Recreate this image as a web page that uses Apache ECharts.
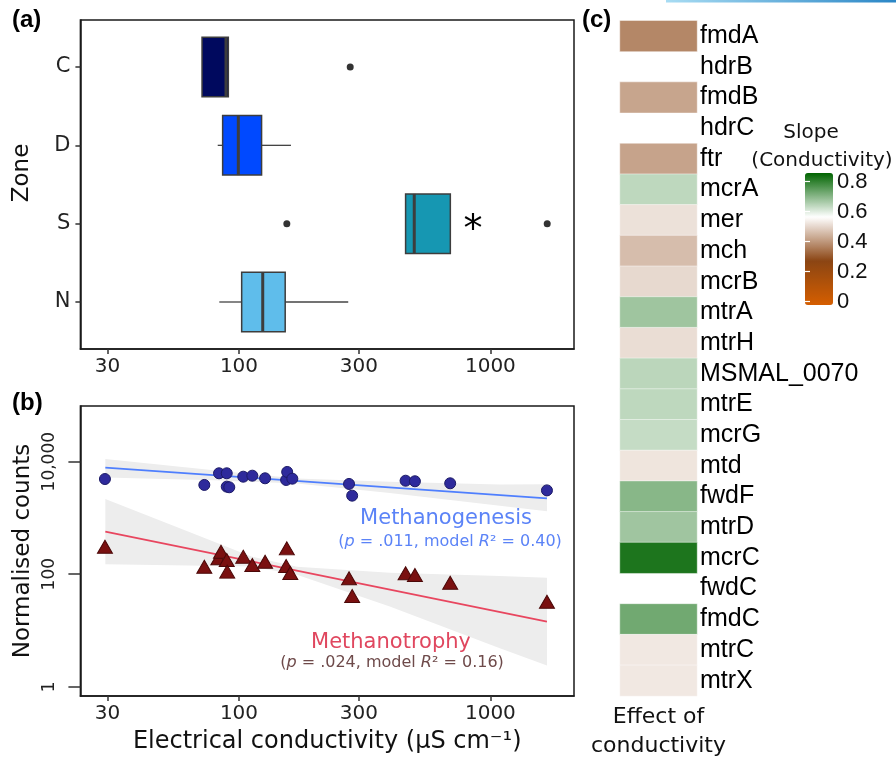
<!DOCTYPE html>
<html>
<head>
<meta charset="utf-8">
<script src="https://cdn.jsdelivr.net/npm/echarts@6/dist/echarts.min.js"></script>
<style>
  html, body { margin: 0; padding: 0; background: #fff; }
  #main { width: 896px; height: 758px; }
</style>
</head>
<body>
<div id="main"></div>
<script>
// (a) conductivity by zone: low whisker, q1, median, q3, high whisker
var zones = ['C', 'D', 'S', 'N'];
var zoneColors = ['#00095e', '#0049ff', '#1697b2', '#5fbdeb'];
var zoneStats = [
    [71.3, 71.3, 88.8, 90.7, 90.7],
    [82.3, 86.1, 99.4, 123, 161],
    [460, 460, 498, 693, 693],
    [83.5, 102.5, 124.3, 152.7, 272]
];
var zoneOutliers = [[277, 0], [155, 2], [1683, 2]];
var ecTicks = [30, 100, 300, 1000];

// (b) normalised counts against conductivity
var genesisEC = [29.3, 72.8, 83.3, 89.4, 89.4, 91.5, 104, 113, 127, 154, 155.5, 163, 274, 282, 460, 501, 692, 1679];
var genesisCounts = [4920, 3860, 6220, 6220, 3600, 3510, 5410, 5640, 5070, 4730, 6570, 4990, 4020, 2490, 4590, 4490, 4130, 3090];
var trophyEC = [29.3, 72.8, 82.8, 84.8, 89.4, 89.8, 104, 113, 127, 154, 155, 160, 274, 282, 460, 501, 692, 1679];
var trophyCounts = [308, 136, 192, 251, 179, 111, 205, 146, 167, 140, 288, 105, 84.5, 41, 104, 97, 70.6, 32.4];
var trendEC = [29.4, 1679];
var genesisTrend = [7820, 2230];
var trophyTrend = [570, 14.3];
var genesisBandEC = [29.4, 79.4, 170, 398, 1091, 1679];
var genesisBandHi = [11200, 7060, 5040, 4390, 3940, 3980];
var genesisBandLo = [5250, 4670, 4090, 2770, 1640, 1320];
var trophyBandEC = [29.4, 63.1, 112, 170, 398, 1091, 1679];
var trophyBandHi = [2170, 568, 207, 136, 106, 92.5, 86.3];
var trophyBandLo = [150, 143, 137, 98, 26.6, 4.85, 2.38];
var countTicks = [1, 100, 10000];

// (c) slope of each gene against conductivity (null = blank cell)
var genes = ['fmdA', 'hdrB', 'fmdB', 'hdrC', 'ftr', 'mcrA', 'mer', 'mch', 'mcrB', 'mtrA', 'mtrH',
    'MSMAL_0070', 'mtrE', 'mcrG', 'mtd', 'fwdF', 'mtrD', 'mcrC', 'fwdC', 'fmdC', 'mtrC', 'mtrX'];
var slopes = [0.376, null, 0.423, null, 0.42, 0.639, 0.517, 0.461, 0.505, 0.675, 0.511,
    0.643, 0.639, 0.631, 0.523, 0.701, 0.674, 0.825, null, 0.728, 0.529, 0.529];
var slopeTicks = [0, 0.2, 0.4, 0.6, 0.8];

var chart = echarts.init(document.getElementById('main'), null, {renderer: 'canvas'});
var FONT = 'DejaVu Sans';
var ARIAL = 'Liberation Sans';

function pairs(xs, ys) {
    return xs.map(function (x, i) { return [x, ys[i]]; });
}
function commas(v) {
    return String(Math.round(v)).replace(/\B(?=(\d{3})+(?!\d))/g, ',');
}

function bandItem(xs, hi, lo) {
    return function (params, api) {
        if (params.dataIndex !== 0) return null;
        var pts = [];
        for (var i = 0; i < xs.length; i++) pts.push(api.coord([xs[i], hi[i]]));
        for (var j = xs.length - 1; j >= 0; j--) pts.push(api.coord([xs[j], lo[j]]));
        return {type: 'polygon', shape: {points: pts}, style: {fill: '#ededed'}};
    };
}

function boxItem(params, api) {
    var yi = api.value(0);
    var lo = api.value(1), q1 = api.value(2), md = api.value(3), q3 = api.value(4), hi = api.value(5);
    var a = api.coord([q1, yi - 0.38])[1];
    var b = api.coord([q1, yi + 0.38])[1];
    var top = Math.min(a, b), h = Math.abs(b - a);
    var yc = api.coord([md, yi])[1];
    var xLo = api.coord([lo, yi])[0], xQ1 = api.coord([q1, yi])[0];
    var xMd = api.coord([md, yi])[0], xQ3 = api.coord([q3, yi])[0], xHi = api.coord([hi, yi])[0];
    return {
        type: 'group',
        children: [
            {type: 'line', shape: {x1: xLo, y1: yc, x2: xQ1, y2: yc}, style: {stroke: '#444', lineWidth: 1.3}},
            {type: 'line', shape: {x1: xQ3, y1: yc, x2: xHi, y2: yc}, style: {stroke: '#444', lineWidth: 1.3}},
            {type: 'rect', shape: {x: xQ1, y: top, width: xQ3 - xQ1, height: h},
                style: {fill: zoneColors[yi], stroke: '#3d3d3d', lineWidth: 1.5}},
            {type: 'line', shape: {x1: xMd, y1: top, x2: xMd, y2: top + h}, style: {stroke: '#3d3d3d', lineWidth: 3}}
        ]
    };
}

function logAxis(grid, name) {
    return {
        gridIndex: grid, type: 'log', logBase: 10, min: 23.4, max: 2151,
        name: name, nameLocation: 'middle', nameGap: 34,
        nameTextStyle: {fontFamily: FONT, fontSize: 24, color: '#111'},
        axisLine: {show: true, onZero: false, lineStyle: {color: '#1a1a1a', width: 1.5}},
        axisTick: {show: true, customValues: ecTicks, length: 5, lineStyle: {color: '#333', width: 1.5}},
        axisLabel: {customValues: ecTicks, fontFamily: FONT, fontSize: 20, color: '#222', margin: 8,
            formatter: function (v) { return String(Math.round(v)); }},
        splitLine: {show: false}, minorTick: {show: false}, minorSplitLine: {show: false}
    };
}

var heatData = [];
slopes.forEach(function (v, i) { if (v !== null) heatData.push([0, i, v]); });

var option = {
    backgroundColor: '#fff',
    animation: false,
    textStyle: {fontFamily: FONT},
    grid: [
        {left: 80.4, top: 20, width: 493.6, height: 329, show: true, borderColor: '#1a1a1a', borderWidth: 1.5, outerBoundsMode: 'none'},
        {left: 80.4, top: 406, width: 493.6, height: 290, show: true, borderColor: '#1a1a1a', borderWidth: 1.5, outerBoundsMode: 'none'},
        {left: 620, top: 20.7, width: 77, height: 675.3, outerBoundsMode: 'none'},
        {left: 805, top: 173, width: 28, height: 132, outerBoundsMode: 'none'}
    ],
    xAxis: [
        logAxis(0, ''),
        logAxis(1, 'Electrical conductivity (μS cm⁻¹)'),
        {
            gridIndex: 2, type: 'category', data: ['Effect of\nconductivity'],
            axisLine: {show: false}, axisTick: {show: false},
            axisLabel: {fontFamily: FONT, fontSize: 22, lineHeight: 29, color: '#111', margin: 7}
        },
        {gridIndex: 3, type: 'value', show: false, min: 0, max: 1}
    ],
    yAxis: [
        {
            gridIndex: 0, type: 'value', min: -0.6, max: 3.6, inverse: true,
            axisLine: {show: true, onZero: false, lineStyle: {color: '#1a1a1a', width: 1.5}},
            axisTick: {show: true, customValues: [0, 1, 2, 3], length: 5, lineStyle: {color: '#333', width: 1.5}},
            axisLabel: {customValues: [0, 1, 2, 3], fontFamily: FONT, fontSize: 21, color: '#222', margin: 10,
                formatter: function (v) { return zones[Math.round(v)]; }},
            splitLine: {show: false}
        },
        {
            gridIndex: 1, type: 'log', logBase: 10, min: 0.684, max: 97700,
            name: 'Normalised counts', nameLocation: 'middle', nameGap: 46,
            nameTextStyle: {fontFamily: FONT, fontSize: 23, color: '#111'},
            axisLine: {show: true, onZero: false, lineStyle: {color: '#1a1a1a', width: 1.5}},
            axisTick: {show: true, customValues: countTicks, length: 12, lineStyle: {color: '#333', width: 1.5}},
            axisLabel: {show: false},
            splitLine: {show: false}, minorTick: {show: false}, minorSplitLine: {show: false}
        },
        {
            gridIndex: 2, type: 'category', data: genes, inverse: true, position: 'right',
            axisLine: {show: false}, axisTick: {show: false},
            axisLabel: {interval: 0, fontFamily: ARIAL, fontSize: 25, color: '#000', margin: 3}
        },
        {
            gridIndex: 3, type: 'value', min: -0.022, max: 0.858, position: 'right', z: 10,
            axisLine: {show: false},
            axisTick: {show: true, inside: true, customValues: slopeTicks, length: 5, lineStyle: {color: '#fff', width: 1.2}},
            axisLabel: {customValues: slopeTicks, fontFamily: ARIAL, fontSize: 22, color: '#111', margin: 4,
                formatter: function (v) { return v === 0 ? '0' : v.toFixed(1); }},
            splitLine: {show: false}
        },
        {
            gridIndex: 3, type: 'value', min: -0.022, max: 0.858, position: 'left', z: 10,
            axisLine: {show: false},
            axisTick: {show: true, inside: true, customValues: slopeTicks, length: 5, lineStyle: {color: '#fff', width: 1.2}},
            axisLabel: {show: false},
            splitLine: {show: false}
        }
    ],
    visualMap: {
        type: 'continuous', seriesIndex: 9, min: -0.022, max: 0.858,
        orient: 'vertical', left: 805, top: 173, itemWidth: 28, itemHeight: 132,
        calculable: false, padding: 0, text: null, showLabel: false,
        inRange: {color: ['#d55e00', '#8b4513', '#ffffff', '#006400']}
    },
    series: [
        {
            type: 'custom', xAxisIndex: 0, yAxisIndex: 0, renderItem: boxItem,
            encode: {x: [1, 2, 3, 4, 5], y: 0},
            data: zoneStats.map(function (s, i) { return [i].concat(s); })
        },
        {
            type: 'scatter', xAxisIndex: 0, yAxisIndex: 0, data: zoneOutliers,
            symbolSize: 7, itemStyle: {color: '#333', opacity: 1}
        },
        {
            type: 'custom', xAxisIndex: 1, yAxisIndex: 1, renderItem: bandItem(genesisBandEC, genesisBandHi, genesisBandLo),
            encode: {x: 0, y: 1}, data: pairs(genesisBandEC, genesisBandHi), z: 1, silent: true
        },
        {
            type: 'custom', xAxisIndex: 1, yAxisIndex: 1, renderItem: bandItem(trophyBandEC, trophyBandHi, trophyBandLo),
            encode: {x: 0, y: 1}, data: pairs(trophyBandEC, trophyBandHi), z: 1, silent: true
        },
        {
            type: 'line', xAxisIndex: 1, yAxisIndex: 1, data: pairs(trendEC, genesisTrend),
            showSymbol: false, lineStyle: {color: '#4f7ffe', width: 1.8}, z: 2
        },
        {
            type: 'line', xAxisIndex: 1, yAxisIndex: 1, data: pairs(trendEC, trophyTrend),
            showSymbol: false, lineStyle: {color: '#e8465f', width: 1.8}, z: 2
        },
        {
            type: 'scatter', xAxisIndex: 1, yAxisIndex: 1, data: pairs(genesisEC, genesisCounts),
            symbol: 'circle', symbolSize: 11, z: 3,
            itemStyle: {color: '#2e2a9c', borderColor: '#1c1a66', borderWidth: 1, opacity: 1}
        },
        {
            type: 'scatter', xAxisIndex: 1, yAxisIndex: 1, data: pairs(trophyEC, trophyCounts),
            symbol: 'triangle', symbolSize: [15, 13], z: 3,
            itemStyle: {color: '#7a1010', borderColor: '#4b0808', borderWidth: 1, opacity: 1}
        },
        {
            type: 'scatter', xAxisIndex: 3, yAxisIndex: 3, data: [], silent: true
        },
        {
            type: 'heatmap', xAxisIndex: 2, yAxisIndex: 2, data: heatData,
            itemStyle: {borderColor: 'rgba(255,255,255,0.45)', borderWidth: 1},
            emphasis: {disabled: true}
        }
    ]
};

chart.setOption(option);

// rotated count labels, placed on the log axis positions
var graphics = [
    {type: 'rect', shape: {x: 666, y: 0, width: 230, height: 2.5},
        style: {fill: new echarts.graphic.LinearGradient(0, 0, 1, 0, [
            {offset: 0, color: '#a8dcf3'}, {offset: 1, color: '#2a86c6'}])}},
    {type: 'text', x: 12, y: 20, style: {text: '(a)', fontFamily: ARIAL, fontWeight: 'bold', fontSize: 24, fill: '#000', verticalAlign: 'middle'}},
    {type: 'text', x: 12, y: 403, style: {text: '(b)', fontFamily: ARIAL, fontWeight: 'bold', fontSize: 24, fill: '#000', verticalAlign: 'middle'}},
    {type: 'text', x: 582, y: 20, style: {text: '(c)', fontFamily: ARIAL, fontWeight: 'bold', fontSize: 24, fill: '#000', verticalAlign: 'middle'}},
    {type: 'text', x: 22, y: 173, rotation: Math.PI / 2,
        style: {text: 'Zone', fontFamily: FONT, fontSize: 23, fill: '#111', align: 'center', verticalAlign: 'middle'}},
    {type: 'text', x: 473, y: 231, style: {text: '*', fontFamily: FONT, fontSize: 38, fill: '#000', align: 'center', verticalAlign: 'middle'}},
    {type: 'text', x: 446, y: 519, style: {text: 'Methanogenesis', fontFamily: FONT, fontSize: 21, fill: '#5b83f7', align: 'center', verticalAlign: 'middle'}},
    {type: 'text', x: 450, y: 542, style: {
        text: '({i|p} = .011, model {i|R}² = 0.40)', fontFamily: FONT, fontSize: 16, fill: '#5b83f7',
        align: 'center', verticalAlign: 'middle',
        rich: {i: {fontStyle: 'italic', fontFamily: FONT, fontSize: 16, fill: '#5b83f7'}}}},
    {type: 'text', x: 391, y: 643, style: {text: 'Methanotrophy', fontFamily: FONT, fontSize: 21, fill: '#e0475f', align: 'center', verticalAlign: 'middle'}},
    {type: 'text', x: 392, y: 663, style: {
        text: '({i|p} = .024, model {i|R}² = 0.16)', fontFamily: FONT, fontSize: 16, fill: '#6e4a4a',
        align: 'center', verticalAlign: 'middle',
        rich: {i: {fontStyle: 'italic', fontFamily: FONT, fontSize: 16, fill: '#6e4a4a'}}}},
    {type: 'text', x: 811, y: 133, style: {text: 'Slope', fontFamily: FONT, fontSize: 20, fill: '#111', align: 'center', verticalAlign: 'middle'}},
    {type: 'text', x: 822, y: 161, style: {text: '(Conductivity)', fontFamily: FONT, fontSize: 20, fill: '#111', align: 'center', verticalAlign: 'middle'}}
];
countTicks.forEach(function (v) {
    var py = chart.convertToPixel({yAxisIndex: 1}, v);
    graphics.push({type: 'text', x: 50, y: py, rotation: Math.PI / 2,
        style: {text: commas(v), fontFamily: FONT, fontSize: 17, fill: '#222', align: 'center', verticalAlign: 'middle'}});
});
chart.setOption({graphic: graphics});
</script>
</body>
</html>
